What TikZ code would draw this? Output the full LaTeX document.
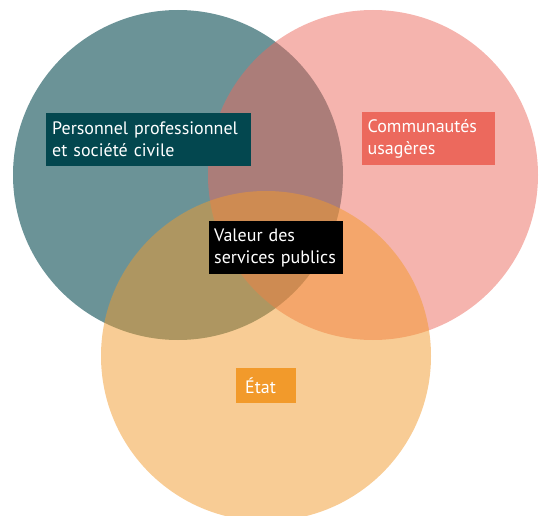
\documentclass[tikz,border=0pt]{standalone}
\usepackage{fontspec}
\setmainfont{PT Sans}
\usepackage{xcolor}
\usetikzlibrary{positioning}

\definecolor{tealdark}{HTML}{03474F}
\definecolor{pinkred}{HTML}{EC695D}
\definecolor{orangeetat}{HTML}{F29A2B}

\tikzset{
  vennset/.style={fill=#1, draw=none},
  labelbox/.style={anchor=north west, text=white, align=left, inner xsep=6pt,
    inner ysep=0pt, font=\fontsize{18}{22}\selectfont},
}

\begin{document}
\begin{tikzpicture}[x=1pt, y=-1pt]
    \useasboundingbox (0, 0) rectangle (541, 516);

    \fill[vennset=tealdark, opacity=0.59] (178, 175) circle (165);
    \fill[vennset=pinkred, opacity=0.5] (373, 175) circle (165);
    \fill[vennset=orangeetat, opacity=0.5] (266, 356) circle (165);

    \node[labelbox, fill=tealdark, text width=193pt, minimum height=53pt] (personnel) at (46, 113) {Personnel professionnel\\et société civile};
    \node[labelbox, fill=pinkred, text width=121pt, minimum height=53pt] (communautes) at (361.5, 112) {Communautés\\usagères};
    \node[labelbox, fill=black, inner xsep=5pt, text width=123.5pt, minimum height=53pt] (valeur) at (209, 221) {Valeur des\\services publics};
    \node[labelbox, fill=orangeetat, text width=48pt, minimum height=35pt] (etat) at (236, 368) {\hspace*{3pt}État};

\end{tikzpicture}
\end{document}
